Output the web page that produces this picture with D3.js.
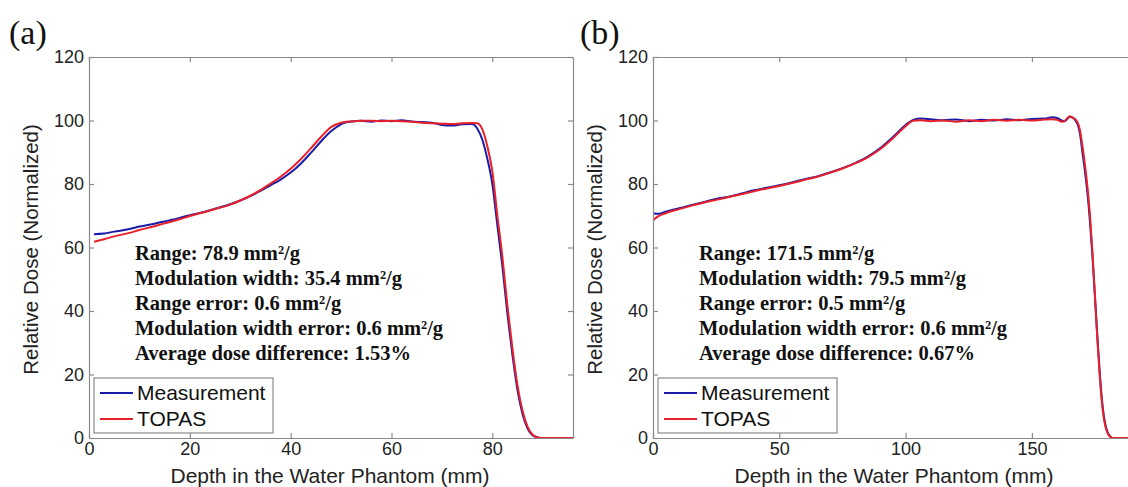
<!DOCTYPE html>
<html>
<head>
    <style>
        body { margin: 0; background: #fff; }
        svg { display: block; }
    </style>
</head>
<body>
    <svg width="1128" height="487"></svg>

    <script src="https://d3js.org/d3.v7.min.js"></script>
    <script>
        // Panel (a) depth-dose data
        const depthA = [1, 3, 5, 8, 10, 13, 15, 18, 20, 23, 25, 28, 30, 32, 34, 36, 38, 40, 42, 44, 46, 48, 50, 51, 52, 54, 56, 58, 60, 62, 64, 66, 68, 70, 72, 74, 76, 77, 78, 79, 80, 81, 82, 83, 84, 85, 86, 87, 88, 89, 90, 92, 94, 96];
        const measA = [64.2, 64.4, 65.0, 65.8, 66.6, 67.5, 68.2, 69.3, 70.2, 71.3, 72.2, 73.6, 74.8, 76.2, 77.8, 79.6, 81.4, 83.6, 86.4, 89.8, 93.4, 96.6, 98.8, 99.4, 99.7, 99.9, 99.6, 100.0, 99.8, 100.1, 99.7, 99.5, 99.3, 98.6, 98.4, 98.8, 98.9, 97.5, 94.0, 88.0, 80.0, 67.0, 54.0, 39.0, 26.0, 15.0, 7.5, 3.0, 0.8, 0.2, 0, 0, 0, 0];
        const topasA = [61.8, 62.6, 63.5, 64.6, 65.5, 66.7, 67.6, 68.9, 69.9, 71.2, 72.1, 73.5, 74.8, 76.3, 78.1, 80.1, 82.3, 84.8, 87.8, 91.2, 94.8, 97.9, 99.3, 99.6, 99.7, 99.9, 99.9, 99.8, 99.9, 99.8, 99.6, 99.3, 99.1, 99.0, 98.9, 99.1, 99.2, 99.1, 97.3, 92.0, 84.0, 70.0, 57.0, 41.5, 28.0, 16.5, 8.5, 3.5, 1.0, 0.2, 0, 0, 0, 0];

        // Panel (b) depth-dose data
        const depthB = [0, 2, 5, 10, 15, 20, 25, 30, 35, 40, 45, 50, 55, 60, 65, 70, 75, 80, 85, 90, 95, 100, 103, 106, 110, 115, 120, 125, 130, 135, 140, 145, 150, 155, 158, 160, 162, 163, 165, 166, 168, 169, 170, 171, 172, 173, 174, 175, 176, 177, 178, 179, 180, 181, 182, 185, 190];
        const measB = [70.8, 70.6, 71.3, 72.3, 73.3, 74.3, 75.3, 76.0, 77.0, 78.0, 78.8, 79.6, 80.5, 81.5, 82.4, 83.6, 85.0, 86.6, 88.6, 91.3, 94.8, 98.6, 100.2, 100.6, 100.4, 100.1, 100.3, 99.8, 100.2, 100.0, 100.4, 100.1, 100.5, 100.6, 101.0, 100.8, 99.9, 99.8, 101.2, 101.0, 99.0, 96.0, 90.0, 84.0, 77.0, 68.0, 57.0, 44.0, 31.0, 19.0, 10.0, 4.5, 1.8, 0.5, 0, 0, 0];
        const topasB = [68.6, 69.8, 70.8, 72.0, 73.1, 74.1, 75.0, 75.9, 76.8, 77.7, 78.6, 79.4, 80.3, 81.3, 82.3, 83.5, 84.9, 86.5, 88.4, 91.0, 94.4, 98.2, 99.9, 100.1, 99.8, 100.0, 99.6, 100.1, 99.8, 100.2, 99.9, 100.2, 100.0, 100.3, 100.4, 100.2, 99.6, 99.9, 101.3, 100.9, 99.5, 97.0, 92.0, 86.0, 79.0, 70.0, 58.0, 44.0, 30.0, 18.0, 9.0, 4.0, 1.5, 0.4, 0, 0, 0];

        const yTicks = [0, 20, 40, 60, 80, 100, 120];
        const xTicksA = [0, 20, 40, 60, 80];
        const xTicksB = [0, 50, 100, 150];

        const notesA = ["Range: 78.9 mm²/g", "Modulation width: 35.4 mm²/g", "Range error: 0.6 mm²/g", "Modulation width error: 0.6 mm²/g", "Average dose difference: 1.53%"];
        const notesB = ["Range: 171.5 mm²/g", "Modulation width: 79.5 mm²/g", "Range error: 0.5 mm²/g", "Modulation width error: 0.6 mm²/g", "Average dose difference: 0.67%"];

        const seriesNames = ["Measurement", "TOPAS"];
        const seriesColors = ["#1a1aa8", "#e8202a"];

        const svg = d3.select("svg");
        const plotTop = 57, plotBottom = 438;
        const axisColor = "#8a8a8a";
        const sans = "Liberation Sans, Arial, sans-serif";
        const serif = "Liberation Serif, Times New Roman, serif";

        function panel(opts) {
            const x = d3.scaleLinear().domain(opts.xDomain).range([opts.left, opts.left + opts.width]);
            const y = d3.scaleLinear().domain([0, 120]).range([plotBottom, plotTop]);
            const g = svg.append("g");

            const clipId = "clip" + opts.tag;
            g.append("clipPath").attr("id", clipId)
                .append("rect")
                .attr("x", opts.left).attr("y", plotTop)
                .attr("width", opts.width).attr("height", plotBottom - plotTop);

            // curves
            const line = d3.line().x(d => x(d[0])).y(d => y(d[1])).curve(d3.curveMonotoneX);
            [opts.meas, opts.topas].forEach((vals, i) => {
                g.append("path")
                    .datum(opts.depth.map((d, k) => [d, vals[k]]))
                    .attr("clip-path", `url(#${clipId})`)
                    .attr("fill", "none")
                    .attr("stroke", seriesColors[i])
                    .attr("stroke-width", 2)
                    .attr("d", line);
            });

            // box axes, ticks inside
            const bAxis = d3.axisBottom(x).tickValues(opts.xTicks).tickSizeInner(-5).tickSizeOuter(0).tickPadding(4);
            const tAxis = d3.axisTop(x).tickValues(opts.xTicks).tickSizeInner(-5).tickSizeOuter(0).tickFormat("");
            const lAxis = d3.axisLeft(y).tickValues(yTicks).tickSizeInner(-5).tickSizeOuter(0).tickPadding(5);
            const rAxis = d3.axisRight(y).tickValues(yTicks).tickSizeInner(-5).tickSizeOuter(0).tickFormat("");

            const axes = [
                g.append("g").attr("transform", `translate(0,${plotBottom})`).call(bAxis),
                g.append("g").attr("transform", `translate(0,${plotTop})`).call(tAxis),
                g.append("g").attr("transform", `translate(${opts.left},0)`).call(lAxis),
                g.append("g").attr("transform", `translate(${opts.left + opts.width},0)`).call(rAxis)
            ];
            axes.forEach(a => {
                a.selectAll("path, line").attr("stroke", axisColor).attr("stroke-width", 1.2);
                a.selectAll("text").attr("fill", "#222").attr("font-family", sans).attr("font-size", 18);
            });

            // axis labels
            g.append("text")
                .attr("x", opts.left + 241).attr("y", 483)
                .attr("text-anchor", "middle")
                .attr("font-family", sans)
                .attr("font-size", 21).attr("fill", "#222")
                .text("Depth in the Water Phantom (mm)");
            g.append("text")
                .attr("transform", `translate(${opts.left - 51},${(plotTop + plotBottom) / 2 + 2}) rotate(-90)`)
                .attr("text-anchor", "middle")
                .attr("font-family", sans)
                .attr("font-size", 20.5).attr("fill", "#222")
                .text("Relative Dose (Normalized)");

            // panel tag
            g.append("text")
                .attr("x", opts.tagX).attr("y", 44)
                .attr("font-family", serif)
                .attr("font-size", 34).attr("fill", "#111")
                .text(`(${opts.tag})`);

            // annotation
            g.append("g").selectAll("text")
                .data(opts.notes)
                .join("text")
                .attr("x", opts.left + 46)
                .attr("y", (d, i) => 260 + i * 25)
                .attr("font-family", serif)
                .attr("font-weight", "bold")
                .attr("font-size", 20.5).attr("fill", "#111")
                .text(d => d);

            // legend
            const lg = g.append("g").attr("transform", `translate(${opts.left + 5},378)`);
            lg.append("rect")
                .attr("width", 179).attr("height", 55)
                .attr("fill", "#fff").attr("stroke", axisColor).attr("stroke-width", 1.2);
            seriesNames.forEach((name, i) => {
                const yy = 15 + i * 26;
                lg.append("line")
                    .attr("x1", 6).attr("x2", 39).attr("y1", yy).attr("y2", yy)
                    .attr("stroke", seriesColors[i]).attr("stroke-width", 2);
                lg.append("text")
                    .attr("x", 43).attr("y", yy + 7)
                    .attr("font-family", sans)
                    .attr("font-size", 21).attr("fill", "#111")
                    .text(name);
            });
        }

        panel({ tag: "a", tagX: 9, left: 89, width: 484, xDomain: [0, 96], xTicks: xTicksA,
                depth: depthA, meas: measA, topas: topasA, notes: notesA });
        panel({ tag: "b", tagX: 580, left: 653, width: 485, xDomain: [0, 192], xTicks: xTicksB,
                depth: depthB, meas: measB, topas: topasB, notes: notesB });
    </script>
</body>
</html>
